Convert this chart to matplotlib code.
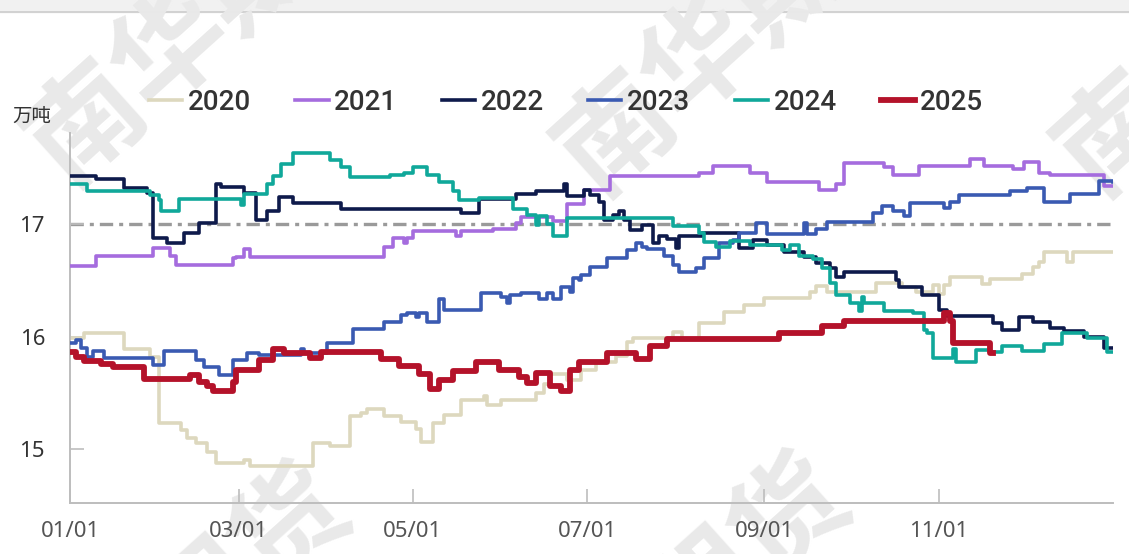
import matplotlib
matplotlib.use('Agg')
import matplotlib.pyplot as plt
from matplotlib.patches import Rectangle

# 数据: 每年的阶梯拐点 (年内天数, 万吨)
years = ['2020', '2021', '2022', '2023', '2024', '2025']

days_2020 = [0, 5, 19, 28, 31, 39, 41, 44, 48, 51, 61, 63, 85, 91, 98, 102, 104, 110, 116, 121, 123, 127,
             131, 137, 145, 146, 151, 163, 166, 168, 174, 179, 184, 191, 195, 197, 211, 214, 220, 229, 236,
             243, 259, 261, 265, 282, 291, 296, 302, 304, 306, 308, 319, 322, 333, 337, 339, 341, 349, 351, 365]
vals_2020 = [15.99, 16.03, 15.89, 15.82, 15.23, 15.17, 15.10, 15.05, 14.97, 14.88, 14.90, 14.85, 15.05, 15.03,
             15.29, 15.32, 15.36, 15.29, 15.24, 15.18, 15.06, 15.23, 15.30, 15.44, 15.47, 15.39, 15.44, 15.50,
             15.58, 15.67, 15.61, 15.70, 15.77, 15.83, 15.95, 15.99, 16.04, 15.98, 16.12, 16.22, 16.28, 16.34,
             16.40, 16.45, 16.40, 16.48, 16.44, 16.40, 16.46, 16.38, 16.46, 16.53, 16.47, 16.51, 16.56, 16.62,
             16.66, 16.75, 16.66, 16.75, 16.75]

days_2021 = [0, 9, 29, 35, 37, 57, 58, 61, 63, 110, 113, 117, 118, 120, 135, 137, 148, 156, 158, 169, 174,
             180, 189, 220, 225, 238, 244, 262, 268, 271, 285, 288, 297, 315, 320, 330, 334, 339, 343, 362, 365]
vals_2021 = [16.63, 16.72, 16.79, 16.72, 16.64, 16.70, 16.71, 16.78, 16.71, 16.80, 16.88, 16.83, 16.88, 16.94,
             16.89, 16.94, 16.96, 17.01, 17.06, 17.03, 17.18, 17.30, 17.43, 17.45, 17.52, 17.45, 17.37, 17.30,
             17.36, 17.54, 17.51, 17.44, 17.52, 17.58, 17.52, 17.49, 17.55, 17.45, 17.44, 17.34, 17.34]

days_2022 = [0, 9, 19, 27, 29, 34, 40, 45, 51, 53, 61, 65, 69, 73, 78, 95, 137, 143, 156, 163, 173, 174, 180,
             182, 185, 187, 190, 192, 194, 196, 200, 204, 206, 209, 212, 213, 221, 234, 239, 244, 250, 257, 261,
             266, 268, 271, 289, 290, 298, 304, 307, 323, 326, 332, 337, 343, 348, 355, 362, 365]
vals_2022 = [17.43, 17.40, 17.32, 17.28, 16.88, 16.83, 16.92, 17.01, 17.36, 17.33, 17.28, 17.04, 17.12, 17.24,
             17.19, 17.13, 17.10, 17.22, 17.27, 17.29, 17.36, 17.25, 17.30, 17.26, 17.20, 17.04, 17.08, 17.12,
             17.04, 16.95, 16.99, 16.83, 16.89, 16.87, 16.79, 16.89, 16.92, 16.79, 16.86, 16.81, 16.75, 16.71,
             16.65, 16.61, 16.53, 16.57, 16.50, 16.44, 16.37, 16.24, 16.18, 16.12, 16.06, 16.17, 16.13, 16.08,
             16.05, 16.00, 15.90, 15.90]

days_2023 = [0, 2, 4, 6, 8, 12, 29, 33, 44, 47, 52, 57, 62, 66, 81, 82, 90, 99, 110, 116, 118, 121, 122, 125,
             129, 131, 144, 151, 153, 154, 158, 164, 167, 169, 172, 175, 176, 178, 179, 182, 188, 195, 198, 200,
             202, 208, 211, 213, 219, 222, 227, 232, 234, 240, 244, 257, 258, 261, 265, 281, 284, 288, 292, 294,
             306, 308, 311, 329, 335, 341, 350, 360, 365]
vals_2023 = [15.94, 15.97, 15.90, 15.82, 15.87, 15.81, 15.75, 15.87, 15.79, 15.73, 15.66, 15.79, 15.85, 15.84,
             15.89, 15.85, 15.94, 16.07, 16.13, 16.19, 16.21, 16.17, 16.21, 16.13, 16.33, 16.24, 16.39, 16.35,
             16.30, 16.37, 16.39, 16.33, 16.39, 16.33, 16.44, 16.40, 16.52, 16.50, 16.55, 16.62, 16.70, 16.77,
             16.83, 16.80, 16.78, 16.72, 16.64, 16.57, 16.61, 16.70, 16.83, 16.86, 16.92, 17.01, 16.91, 17.01,
             16.91, 16.96, 17.02, 17.10, 17.16, 17.12, 17.07, 17.19, 17.14, 17.20, 17.26, 17.29, 17.32, 17.20,
             17.27, 17.38, 17.37]

days_2024 = [0, 6, 28, 31, 32, 38, 60, 61, 69, 71, 74, 78, 91, 95, 98, 112, 117, 120, 125, 129, 134, 136, 143,
             155, 160, 163, 164, 167, 169, 174, 211, 220, 222, 226, 231, 238, 249, 252, 255, 260, 263, 266, 268,
             273, 276, 277, 278, 285, 295, 299, 300, 302, 309, 310, 317, 322, 326, 333, 341, 347, 356, 363, 365]
vals_2024 = [17.36, 17.29, 17.26, 17.21, 17.12, 17.22, 17.17, 17.27, 17.36, 17.43, 17.53, 17.63, 17.57, 17.51,
             17.42, 17.44, 17.45, 17.51, 17.44, 17.37, 17.29, 17.21, 17.23, 17.13, 17.08, 16.99, 17.07, 17.00,
             16.89, 17.05, 16.98, 16.92, 16.84, 16.80, 16.85, 16.81, 16.77, 16.81, 16.72, 16.69, 16.61, 16.48,
             16.37, 16.30, 16.23, 16.35, 16.30, 16.23, 16.21, 16.06, 16.03, 15.81, 15.89, 15.77, 15.88, 15.86,
             15.92, 15.87, 15.93, 16.03, 15.99, 15.86, 15.86]

days_2025 = [0, 2, 5, 11, 15, 26, 42, 45, 48, 50, 57, 58, 66, 71, 75, 84, 88, 109, 115, 122, 126, 129, 134,
             142, 150, 157, 160, 163, 168, 172, 175, 178, 188, 198, 203, 209, 248, 263, 271, 306, 308, 309, 322, 323]
vals_2025 = [15.86, 15.82, 15.78, 15.76, 15.73, 15.62, 15.66, 15.60, 15.56, 15.52, 15.60, 15.70, 15.79, 15.89,
             15.85, 15.81, 15.86, 15.80, 15.74, 15.67, 15.53, 15.61, 15.69, 15.77, 15.70, 15.64, 15.59, 15.68,
             15.56, 15.52, 15.70, 15.77, 15.85, 15.80, 15.92, 15.98, 16.03, 16.09, 16.14, 16.21, 16.14, 15.94,
             15.85, 15.85]

ref_level = 17
tick_days = [0, 59, 120, 181, 243, 304]
tick_labels = ['01/01', '03/01', '05/01', '07/01', '09/01', '11/01']

colors = ['#ddd8be', '#a56cde', '#0e1a4b', '#3a5ab2', '#10a89a', '#b4122a']
widths = [2.6, 2.6, 2.6, 2.6, 2.6, 4.2]

plt.rcParams['font.family'] = ['Noto Sans', 'Noto Sans CJK SC', 'DejaVu Sans']

fig = plt.figure(figsize=(11.29, 5.54), dpi=100)
ax = fig.add_axes([70 / 1129, 51 / 554, 1043 / 1129, 370 / 554])
ax.set_facecolor('none')
ax.set_zorder(2)

# 顶部灰条
fig.patches.append(Rectangle((0, 1 - 11 / 554), 1, 11 / 554, transform=fig.transFigure,
                             facecolor='#f1f1f1', edgecolor='none', zorder=0))
fig.lines.append(plt.Line2D([0, 1], [1 - 12 / 554, 1 - 12 / 554], transform=fig.transFigure,
                            color='#d2d2d2', lw=1.6, zorder=0))

# 水印
for cx, cy in [(215, 10), (165, 640), (745, 20), (665, 630), (1245, 20)]:
    fig.text(cx / 1129, 1 - cy / 554, '南华期货', fontsize=82, color='#e9e9e9', rotation=42,
             ha='center', va='center', family='Noto Sans CJK SC', fontweight='bold', zorder=0)

ax.axhline(ref_level, color='#9a9a9a', lw=2.4, ls=(0, (4, 1.8, 1.2, 1.8)), zorder=1)

all_days = [days_2020, days_2021, days_2022, days_2023, days_2024, days_2025]
all_vals = [vals_2020, vals_2021, vals_2022, vals_2023, vals_2024, vals_2025]
for i in range(6):
    ax.step(all_days[i], all_vals[i], where='post', color=colors[i], lw=widths[i],
            label=years[i], zorder=2 + i, solid_joinstyle='round')

ax.set_xlim(0, 365)
ax.set_ylim(14.52, 17.81)
ax.set_xticks(tick_days)
ax.set_xticklabels(tick_labels)
ax.set_yticks([15, 16, 17])
ax.set_yticklabels(['15', '16', '17'])

for s in ['top', 'right']:
    ax.spines[s].set_visible(False)
for s in ['left', 'bottom']:
    ax.spines[s].set_color('#bdbdbd')
    ax.spines[s].set_linewidth(1.4)

ax.tick_params(axis='x', direction='in', length=10, width=1.2, color='#bdbdbd',
               labelsize=16, labelcolor='#555555', pad=13)
ax.tick_params(axis='y', direction='in', length=10, width=1.2, color='#bdbdbd',
               labelsize=16, labelcolor='#333333', pad=18)

fig.text(12 / 1129, 1 - 116 / 554, '万吨', fontsize=14, color='#333333',
         family='Noto Sans CJK SC', va='center', ha='left')

leg = fig.legend(loc='center', bbox_to_anchor=(566 / 1129, 1 - 102 / 554), ncol=6, frameon=False,
                 handlelength=1.2, handletextpad=0.2, columnspacing=1.6,
                 prop={'family': 'Roboto', 'size': 20, 'weight': 'medium'})
for t in leg.get_texts():
    t.set_color('#333333')

fig.savefig('out.png', dpi=100)
